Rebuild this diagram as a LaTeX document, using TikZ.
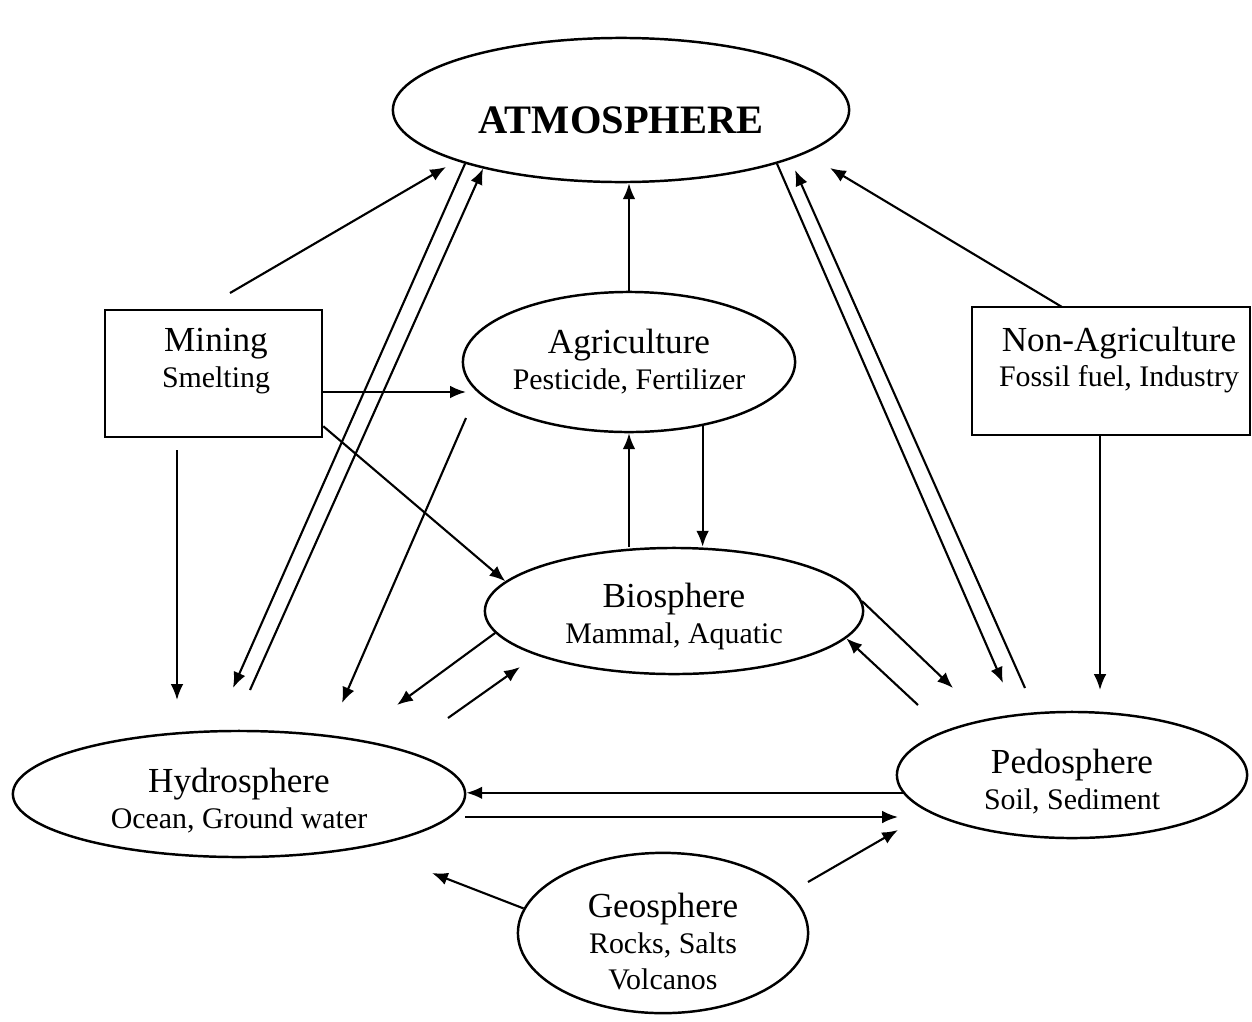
\documentclass[tikz,border=0pt]{standalone}
\usepackage{fontspec}
\setmainfont{Liberation Serif}
\usetikzlibrary{shapes.geometric,arrows.meta}
\newcommand{\subtext}[1]{{\fontsize{8.5}{10.2}\selectfont #1}}
\newcommand{\topgap}[1]{\rule{0pt}{#1}}

\begin{document}
\begin{tikzpicture}[x=0.01cm,y=-0.01cm]
\tikzset{sphere/.style={ellipse,draw,line width=0.7pt,inner sep=0pt,align=center,font=\fontsize{10}{10.2}\selectfont},
  srcbox/.style={rectangle,draw,line width=0.7pt,inner sep=0pt},
  srctext/.style={align=center,font=\fontsize{10}{10.2}\selectfont},
  arr/.style={-{Latex[length=4.5pt,width=3.6pt]},line width=0.6pt}}
\useasboundingbox (0,0) rectangle (1252,1021);
% the spheres
\node[sphere,minimum width=4.56cm,minimum height=1.44cm] (atmo) at (621,110) {\fontsize{11.5}{12}\selectfont\bfseries\topgap{13.2pt}ATMOSPHERE};
\node[sphere,minimum width=3.32cm,minimum height=1.40cm] (agri) at (629,362) {Agriculture\\ \subtext{Pesticide, Fertilizer}};
\node[sphere,minimum width=3.78cm,minimum height=1.26cm] (bio) at (674,611) {\topgap{10pt}Biosphere\\ \subtext{Mammal, Aquatic}};
\node[sphere,minimum width=4.52cm,minimum height=1.26cm] (hydro) at (239,794) {\topgap{10.8pt}Hydrosphere\\ \subtext{Ocean, Ground water}};
\node[sphere,minimum width=3.50cm,minimum height=1.26cm] (pedo) at (1072,775) {\topgap{10.8pt}Pedosphere\\ \subtext{Soil, Sediment}};
\node[sphere,minimum width=2.90cm,minimum height=1.60cm] (geo) at (663,933) {\topgap{11.7pt}Geosphere\\ \subtext{Rocks, Salts}\\ \subtext{Volcanos}};
% the sources
\node[srcbox,minimum width=2.17cm,minimum height=1.27cm] (mining) at (213.5,373.5) {};
\node[srctext] (miningtxt) at (216,361) {Mining\\ \subtext{Smelting}};
\node[srcbox,minimum width=2.78cm,minimum height=1.28cm] (nonag) at (1111,371) {};
\node[srctext] (nonagtxt) at (1119,360) {Non-Agriculture\\ \subtext{Fossil fuel, Industry}};
% free ends
\foreach \n/\x/\y in {mtop/230/293, atipa/446/167, hupa/233/688, hlow/250/690,
  pdn/1003/683, pup/1025/688, atipb/795/170, atipc/830/168, nstart/1062/307,
  nx/1100/0, ntip/1100/690, agtip/466/392, mdown/177/450, mtip/177/700,
  agstart/466/418, htipa/342/703, htipb/397/705, hstart/448/718, btip/520/667,
  ptipa/953/688, pstart/918/705, htipc/432/873, gstart/808/882, ptipb/898/830,
  hpa/465/817, hpb/898/817} {
\coordinate (\n) at (\x,\y);
}
% to and from the atmosphere
\draw[arr] (mtop) -- (atipa);
\draw[arr] (atmo.199) -- (hupa);
\draw[arr] (hlow) -- (atmo.203);
\draw[arr] (agri.north) -- (agri.north |- atmo.south);
\draw[arr] (atmo.341) -- (pdn);
\draw[arr] (pup) -- (atipb);
\draw[arr] (nstart) -- (atipc);
% from the sources
\draw[arr] (nonag.south -| nx) -- (ntip);
\draw[arr] (mining.east |- agtip) -- (agtip);
\draw[arr] ([yshift=0.12cm]mining.south east) -- (bio.170);
\draw[arr] (mdown) -- (mtip);
% agriculture and biosphere
\draw[arr] (agstart) -- (htipa);
\draw[arr] (agri.south |- bio.north) -- (agri.south);
\draw[arr] (agri.-41.6) -- (agri.-41.6 |- bio.north);
\draw[arr] (bio.187) -- (htipb);
\draw[arr] (hstart) -- (btip);
\draw[arr] (bio.3) -- (ptipa);
\draw[arr] (pstart) -- (bio.351.5);
% hydrosphere, pedosphere, geosphere
\draw[arr] (pedo.186.5) -- (pedo.186.5 -| hydro.east);
\draw[arr] (hpa) -- (hpb);
\draw[arr] (geo.170) -- (htipc);
\draw[arr] (gstart) -- (ptipb);
\end{tikzpicture}
\end{document}
